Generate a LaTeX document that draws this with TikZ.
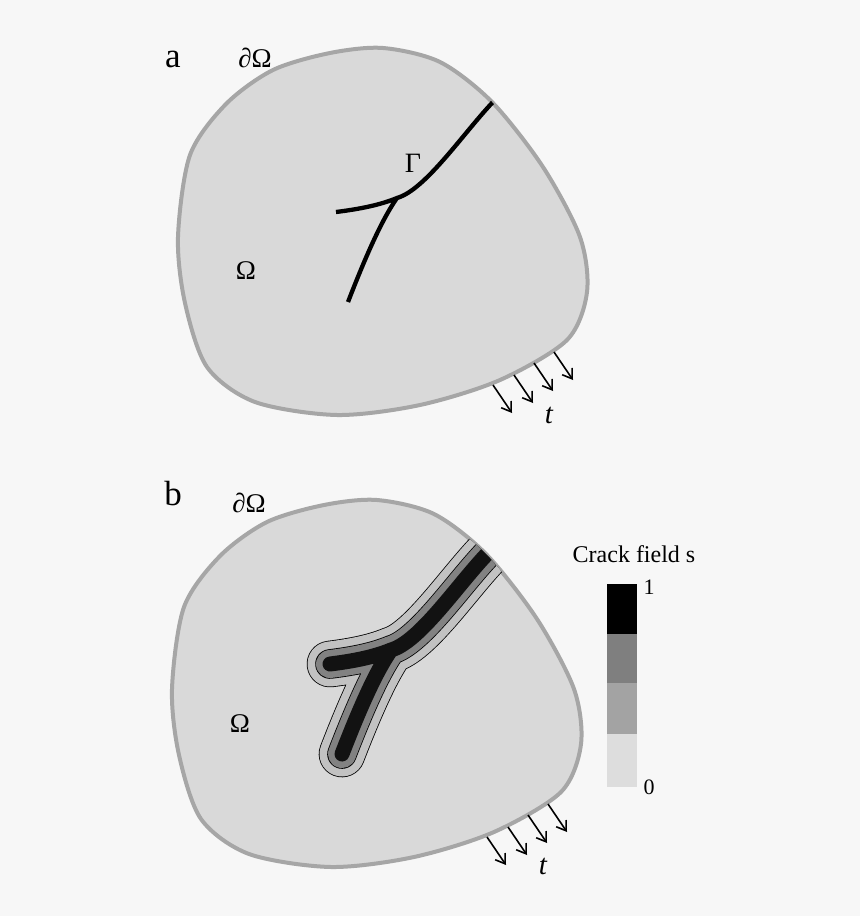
\documentclass[tikz,border=0pt]{standalone}
\usepackage{fontspec}
\setmainfont{Liberation Serif}
\usetikzlibrary{arrows.meta}

\definecolor{paper}{HTML}{F7F7F7}
\definecolor{bodyfill}{HTML}{D9D9D9}
\definecolor{rimgray}{HTML}{A6A6A6}
\definecolor{bandlight}{HTML}{C2C2C2}
\definecolor{banddark}{HTML}{828282}
\definecolor{bandcore}{HTML}{121212}
\definecolor{levelone}{HTML}{7F7F7F}
\definecolor{leveltwo}{HTML}{A3A3A3}
\definecolor{levelthree}{HTML}{DDDDDD}

% outline of the domain (panel a position)
\newcommand\domainoutline{plot [smooth cycle] coordinates {(178,237) (190,155) (226,104) (273,70) (330,53) (383,48) (440,62) (492,102) (543,167) (580,237) (587,292) (567,340) (500,380) (420,405) (337,415) (255,402) (207,367) (185,303)}}
% branched crack (panel a position)
\newcommand\crackpath{(507,87) -- (492,103) .. controls (462,135) and (425,190) .. (397,198) .. controls (380,205) and (360,209) .. (336,212) (397,198) .. controls (385,215) and (370,245) .. (348,302)}

\begin{document}
\begin{tikzpicture}[x=1pt,y=-1pt,
    body/.style={fill=bodyfill,draw=rimgray,line width=4pt},
    crack/.style={line width=4.3pt,line cap=butt},
    traction/.style={line width=1.6pt,-{Straight Barb[length=9pt,width=12pt]}},
    panelname/.style={font=\fontsize{35}{38}\selectfont,anchor=base},
    greek/.style={font=\fontsize{27}{30}\selectfont,anchor=base},
    keytext/.style={font=\fontsize{24}{28}\selectfont,anchor=base},
    keynum/.style={font=\fontsize{22}{24}\selectfont,anchor=base west}]
  \fill[paper] (0,0) rectangle (860,916);

  % Panel a: sharp crack
  \node[panelname] (panelA) at (173,67) {a};
  \begin{scope}
    \draw[body] \domainoutline;
    \begin{scope}
      \clip \domainoutline;
      \draw[crack] \crackpath;
    \end{scope}
    \foreach \x/\y in {493/385,514/375,534/363,554/352}
      \draw[traction] (\x,\y) -- ++(19,28);
    \node[greek] (boundA) at (255,67) {∂Ω};
    \node[greek] (domainA) at (246,279) {Ω};
    \node[greek,font=\fontsize{28}{30}\selectfont] (gammaA) at (413,172) {Γ};
    \node[greek,font=\fontsize{29}{30}\selectfont\itshape] (loadA) at (549,423) {t};
  \end{scope}

  % Panel b: smeared crack field
  \node[panelname] (panelB) at (173,505) {b};
  \begin{scope}[shift={(-6,452)}]
    \draw[body] \domainoutline;
    \begin{scope}
      \clip \domainoutline;
      \foreach \w/\c in {46.6/black,45/bandlight,29.6/black,28/banddark,15/bandcore}
        \draw[line width=\w pt,draw=\c,line cap=round,line join=round] \crackpath;
    \end{scope}
    \foreach \x/\y in {493/385,514/375,534/363,554/352}
      \draw[traction] (\x,\y) -- ++(19,28);
    \node[greek] (boundB) at (255,60) {∂Ω};
    \node[greek] (domainB) at (246,280) {Ω};
    \node[greek,font=\fontsize{29}{30}\selectfont\itshape] (loadB) at (549,422) {t};
  \end{scope}

  % colour key
  \node[keytext] (keyTitle) at (634,562) {Crack field s};
  \fill[black]      (607,584) rectangle (637,634);
  \fill[levelone]   (607,634) rectangle (637,683);
  \fill[leveltwo]   (607,683) rectangle (637,734);
  \fill[levelthree] (607,734) rectangle (637,787);
  \node[keynum] (keyTop) at (640,594) {1};
  \node[keynum] (keyBottom) at (640,794) {0};
\end{tikzpicture}
\end{document}
